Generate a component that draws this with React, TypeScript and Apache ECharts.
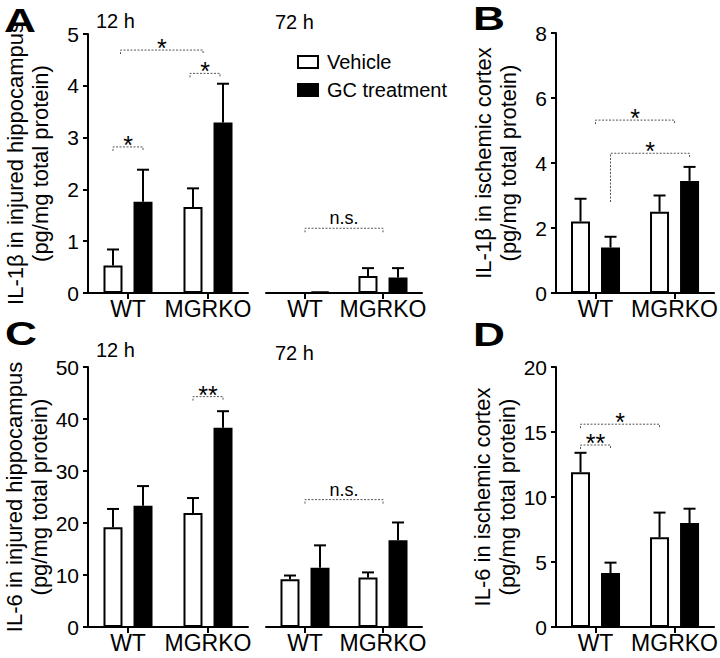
import React, { useEffect, useRef } from "react";
import * as echarts from "echarts";

const FONT = "'Liberation Sans', Arial, Helvetica, sans-serif";

// ---- data ----
const groups = ["WT", "MGRKO"];
const seriesNames = ["Vehicle", "GC treatment"];

// A: IL-1β injured hippocampus, 12 h
const a12Vehicle = [0.53, 1.66];
const a12VehicleErr = [0.84, 2.02];
const a12GC = [1.76, 3.29];
const a12GCErr = [2.38, 4.04];
// A: 72 h
const a72Vehicle = [0.0, 0.33];
const a72VehicleErr = [0.0, 0.48];
const a72GC = [0.03, 0.3];
const a72GCErr = [0.03, 0.48];
// B: IL-1β ischemic cortex
const bVehicle = [2.2, 2.5];
const bVehicleErr = [2.9, 3.0];
const bGC = [1.4, 3.45];
const bGCErr = [1.73, 3.88];
// C: IL-6 injured hippocampus, 12 h
const c12Vehicle = [19.2, 21.9];
const c12VehicleErr = [22.7, 24.8];
const c12GC = [23.3, 38.3];
const c12GCErr = [27.1, 41.5];
// C: 72 h
const c72Vehicle = [9.2, 9.5];
const c72VehicleErr = [9.9, 10.5];
const c72GC = [11.4, 16.7];
const c72GCErr = [15.7, 20.1];
// D: IL-6 ischemic cortex
const dVehicle = [11.9, 6.9];
const dVehicleErr = [13.4, 8.8];
const dGC = [4.15, 8.0];
const dGCErr = [4.95, 9.1];

// significance brackets: from/to = [group index, bar side (-1 vehicle, 0 group, 1 GC)]
type Bracket = { from: number[]; to: number[]; y: number; label: string; legFrom?: number };
const bracketsA12: Bracket[] = [
  { from: [0, -1], to: [0, 1], y: 2.82, label: "*" },
  { from: [0, -0.5], to: [1, -0.33], y: 4.69, label: "*" },
  { from: [1, -1.2], to: [1, 0.8], y: 4.24, label: "*" },
];
const bracketsA72: Bracket[] = [{ from: [0, 0], to: [1, 0], y: 1.25, label: "n.s." }];
const bracketsB: Bracket[] = [
  { from: [0, 0], to: [1, 0], y: 5.32, label: "*" },
  { from: [0, 1], to: [1, 1], y: 4.3, label: "*", legFrom: 2.8 },
];
const bracketsC12: Bracket[] = [{ from: [1, -1], to: [1, 1], y: 44.3, label: "**" }];
const bracketsC72: Bracket[] = [{ from: [0, 0], to: [1, 0], y: 24.5, label: "n.s." }];
const bracketsD: Bracket[] = [
  { from: [0, -1], to: [0, 1], y: 14.0, label: "**" },
  { from: [0, -1], to: [1, -1], y: 15.6, label: "*" },
];

const BAR_W = 19;
const OFFSET = 15;

type Panel = {
  left: number; top: number; width: number; height: number;
  max: number; interval: number; showY: boolean; name?: string;
  vehicle: number[]; vehicleErr: number[]; gc: number[]; gcErr: number[];
  brackets: Bracket[];
};

const panels: Panel[] = [
  { left: 88, top: 34, width: 160, height: 259, max: 5, interval: 1, showY: true,
    name: "IL-1β in injured hippocampus\n(pg/mg total protein)",
    vehicle: a12Vehicle, vehicleErr: a12VehicleErr, gc: a12GC, gcErr: a12GCErr, brackets: bracketsA12 },
  { left: 266, top: 34, width: 156, height: 259, max: 5, interval: 1, showY: false,
    vehicle: a72Vehicle, vehicleErr: a72VehicleErr, gc: a72GC, gcErr: a72GCErr, brackets: bracketsA72 },
  { left: 556, top: 33, width: 162, height: 260, max: 8, interval: 2, showY: true,
    name: "IL-1β in ischemic cortex\n(pg/mg total protein)",
    vehicle: bVehicle, vehicleErr: bVehicleErr, gc: bGC, gcErr: bGCErr, brackets: bracketsB },
  { left: 88, top: 367, width: 160, height: 260, max: 50, interval: 10, showY: true,
    name: "IL-6 in injured hippocampus\n(pg/mg total protein)",
    vehicle: c12Vehicle, vehicleErr: c12VehicleErr, gc: c12GC, gcErr: c12GCErr, brackets: bracketsC12 },
  { left: 266, top: 367, width: 156, height: 260, max: 50, interval: 10, showY: false,
    vehicle: c72Vehicle, vehicleErr: c72VehicleErr, gc: c72GC, gcErr: c72GCErr, brackets: bracketsC72 },
  { left: 556, top: 367, width: 162, height: 260, max: 20, interval: 5, showY: true,
    name: "IL-6 in ischemic cortex\n(pg/mg total protein)",
    vehicle: dVehicle, vehicleErr: dVehicleErr, gc: dGC, gcErr: dGCErr, brackets: bracketsD },
];

function errorSeries(gi: number, means: number[], tops: number[], side: number) {
  return {
    type: "custom", xAxisIndex: gi, yAxisIndex: gi, silent: true, z: 3, clip: false,
    data: groups.map((_, i) => [i, means[i], tops[i]]),
    renderItem: (params: any, api: any) => {
      const cat = api.value(0), m = api.value(1), t = api.value(2);
      if (!(t > m)) return null;
      const base = api.coord([cat, m]);
      const top = api.coord([cat, t]);
      const x = base[0] + side * OFFSET;
      const st = { stroke: "#000", lineWidth: 2 };
      return {
        type: "group",
        children: [
          { type: "line", shape: { x1: x, y1: base[1], x2: x, y2: top[1] }, style: st },
          { type: "line", shape: { x1: x - 6, y1: top[1], x2: x + 6, y2: top[1] }, style: st },
        ],
      };
    },
  };
}

function bracketSeries(gi: number, list: Bracket[]) {
  return {
    type: "custom", xAxisIndex: gi, yAxisIndex: gi, silent: true, z: 4, clip: false,
    data: list.map((b) => [b.from[0], b.y, b.to[0]]),
    renderItem: (params: any, api: any) => {
      const b = list[params.dataIndex];
      const p1 = api.coord([b.from[0], b.y]);
      const p2 = api.coord([b.to[0], b.y]);
      const x1 = p1[0] + b.from[1] * OFFSET;
      const x2 = p2[0] + b.to[1] * OFFSET;
      const y = p1[1];
      const leg1 = b.legFrom != null ? api.coord([b.from[0], b.legFrom])[1] : y + 4;
      const leg2 = y + 4;
      const star = b.label.charAt(0) === "*";
      return {
        type: "group",
        children: [
          {
            type: "polyline",
            shape: { points: [[x1, leg1], [x1, y], [x2, y], [x2, leg2]] },
            style: { stroke: "#555", lineWidth: 1, lineDash: [2, 1.5], fill: null },
          },
          {
            type: "text",
            style: {
              text: b.label, x: (x1 + x2) / 2, y: y - (star ? 2 : 10),
              align: "center", verticalAlign: "middle",
              fontSize: star ? 25 : 18, fontFamily: FONT, fill: "#000",
            },
          },
        ],
      };
    },
  };
}

export default function App() {
  const ref = useRef<HTMLDivElement>(null);
  useEffect(() => {
    document.body.style.margin = "0";
    const chart = echarts.init(ref.current!, null, { renderer: "svg" });
    const grid = panels.map((p) => ({ left: p.left, top: p.top, width: p.width, height: p.height }));
    const xAxis = panels.map((p, i) => ({
      type: "category", gridIndex: i, data: groups,
      axisLine: { show: true, lineStyle: { color: "#000", width: 2 } },
      axisTick: { show: true, alignWithLabel: true, interval: 0, length: 6, lineStyle: { color: "#000", width: 2 } },
      axisLabel: { interval: 0, hideOverlap: false, fontSize: 23, color: "#000", margin: 4, fontFamily: FONT },
      splitLine: { show: false },
    }));
    const yAxis = panels.map((p, i) => ({
      type: "value", gridIndex: i, min: 0, max: p.max, interval: p.interval, show: p.showY,
      axisLine: { show: true, lineStyle: { color: "#000", width: 2 } },
      axisTick: { show: true, length: 5, lineStyle: { color: "#000", width: 2 } },
      axisLabel: { fontSize: 21, color: "#000", margin: 9, fontFamily: FONT },
      splitLine: { show: false },
      name: p.name || "",
      nameLocation: "middle", nameRotate: 90, nameGap: 35,
      nameTextStyle: { fontSize: 22, lineHeight: 25, color: "#000", fontFamily: FONT, verticalAlign: "bottom" },
    }));
    const series: any[] = [];
    panels.forEach((p, i) => {
      series.push({
        type: "bar", name: seriesNames[0], xAxisIndex: i, yAxisIndex: i, data: p.vehicle,
        barWidth: BAR_W, barGap: "58%",
        itemStyle: { color: "#fff", borderColor: "#000", borderWidth: 2 },
      });
      series.push({
        type: "bar", name: seriesNames[1], xAxisIndex: i, yAxisIndex: i, data: p.gc,
        barWidth: BAR_W, barGap: "58%",
        itemStyle: { color: "#000", borderColor: "#000", borderWidth: 2 },
      });
      series.push(errorSeries(i, p.vehicle, p.vehicleErr, -1));
      series.push(errorSeries(i, p.gc, p.gcErr, 1));
      series.push(bracketSeries(i, p.brackets));
    });
    const txt = (text: string, x: number, y: number, size: number, bold = false, sx = 1) => ({
      type: "text", x, y, scaleX: sx,
      style: {
        text, fontSize: size, fontWeight: bold ? "bold" : "normal", fontFamily: FONT,
        fill: "#000", align: "left", verticalAlign: "middle",
      },
    });
    chart.setOption({
      animation: false,
      backgroundColor: "#fff",
      textStyle: { fontFamily: FONT },
      grid, xAxis, yAxis, series,
      legend: {
        orient: "vertical", left: 292, top: 47, itemWidth: 20, itemHeight: 12, itemGap: 8,
        textStyle: { fontSize: 20, color: "#000", fontFamily: FONT, lineHeight: 20, padding: [0, 0, 0, 4] },
        data: [
          { name: seriesNames[0], icon: "rect", itemStyle: { color: "#fff", borderColor: "#000", borderWidth: 2 } },
          { name: seriesNames[1], icon: "rect", itemStyle: { color: "#000", borderColor: "#000", borderWidth: 2 } },
        ],
      },
      graphic: [
        txt("A", 4, 20, 34, true, 1.3),
        txt("B", 473, 18, 34, true, 1.3),
        txt("C", 5, 333, 34, true, 1.3),
        txt("D", 473, 334, 34, true, 1.3),
        txt("12 h", 96, 21, 20),
        txt("72 h", 275, 22, 20),
        txt("12 h", 96, 350, 20),
        txt("72 h", 275, 353, 20),
      ],
    });
    return () => chart.dispose();
  }, []);
  return <div ref={ref} style={{ width: 720, height: 658 }} />;
}
